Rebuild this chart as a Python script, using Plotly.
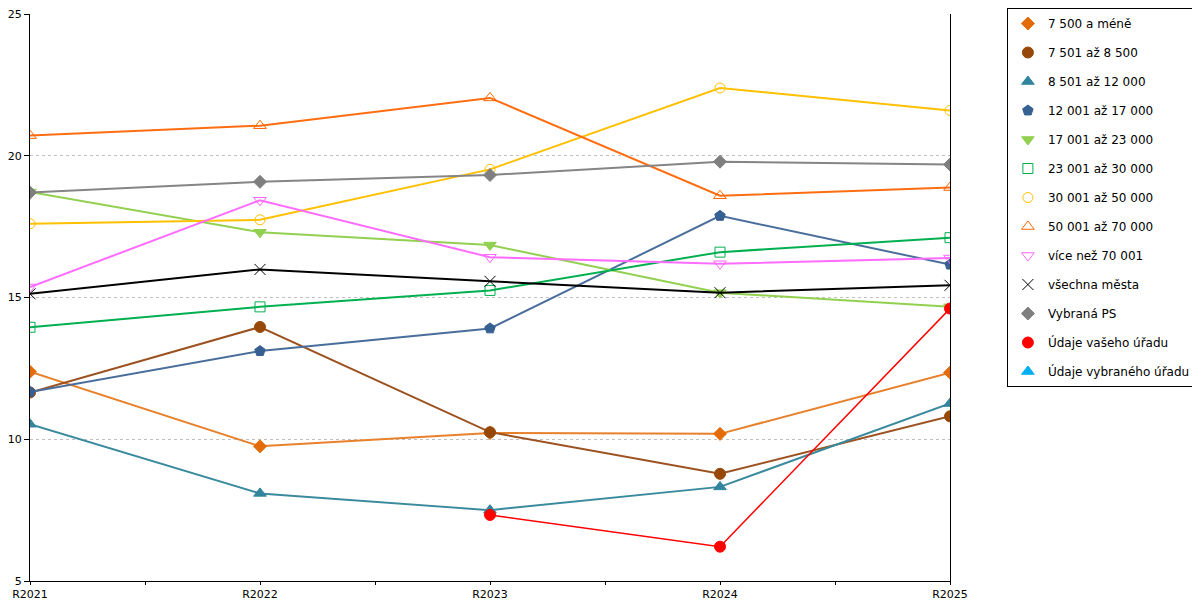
import plotly.graph_objects as go

years = ["R2021", "R2022", "R2023", "R2024", "R2025"]

s_7500 = [12.38, 9.75, 10.22, 10.19, 12.35]
s_8500 = [11.65, 13.96, 10.25, 8.78, 10.81]
s_12000 = [10.53, 8.09, 7.50, 8.32, 11.26]
s_17000 = [11.67, 13.11, 13.91, 17.88, 16.16]
s_23000 = [18.72, 17.30, 16.85, 15.17, 14.67]
s_30000 = [13.95, 14.67, 15.25, 16.60, 17.11]
s_50000 = [17.60, 17.74, 19.52, 22.39, 21.60]
s_70000 = [20.71, 21.06, 22.04, 18.59, 18.88]
s_over70 = [15.37, 18.43, 16.42, 16.19, 16.39]
s_all = [15.13, 15.99, 15.57, 15.17, 15.43]
s_ps = [18.70, 19.08, 19.32, 19.79, 19.69]
s_vas = [None, None, 7.33, 6.21, 14.61]
s_vybr = [None, None, None, None, None]

y_ticks = [5, 10, 15, 20, 25]

# name, values, line colour, marker colour, symbol, size
series = [
    ("7 500 a méně", s_7500, "#E8812C", "#E36C09", "diamond", 10),
    ("7 501 až 8 500", s_8500, "#9C5220", "#974806", "circle", 11),
    ("8 501 až 12 000", s_12000, "#3A8A9E", "#31859C", "triangle-up", 11),
    ("12 001 až 17 000", s_17000, "#4A6E9C", "#376092", "pentagon", 11),
    ("17 001 až 23 000", s_23000, "#92D050", "#92D050", "triangle-down", 11),
    ("23 001 až 30 000", s_30000, "#00B050", "#00B050", "square-open", 10),
    ("30 001 až 50 000", s_50000, "#FFC000", "#FFC000", "circle-open", 10),
    ("50 001 až 70 000", s_70000, "#FF6D10", "#FF6600", "triangle-up-open", 11),
    ("více než 70 001", s_over70, "#FF6CFF", "#FF66FF", "triangle-down-open", 11),
    ("všechna města", s_all, "#000000", "#000000", "x-thin-open", 11),
    ("Vybraná PS", s_ps, "#858585", "#7F7F7F", "diamond", 10),
    ("Údaje vašeho úřadu", s_vas, "#FF0000", "#FF0000", "circle", 11),
    ("Údaje vybraného úřadu", s_vybr, "#00B0F0", "#00B0F0", "triangle-up", 11),
]

xpos = list(range(len(years)))

fig = go.Figure()
for name, vals, lc, mc, sym, size in series:
    lw = 1.5 if name == "Údaje vašeho úřadu" else 2
    fig.add_trace(go.Scatter(
        x=xpos, y=vals, mode="lines+markers", name=name,
        legendgroup=name, showlegend=False, connectgaps=False,
        line=dict(color=lc, width=lw),
        marker=dict(symbol=sym, size=size, color=mc, line=dict(color=mc, width=1)),
    ))
    # legend shows the marker only
    fig.add_trace(go.Scatter(
        x=[None], y=[None], mode="markers", name=name,
        legendgroup=name, showlegend=True,
        marker=dict(symbol=sym, size=size, color=mc, line=dict(color=mc, width=1)),
    ))

tickvals = [i / 2 for i in range(2 * len(years) - 1)]
ticktext = [years[int(v)] if v == int(v) else "" for v in tickvals]

# page body has an 8px margin, so the figure is sized to the visible area
fig.update_layout(
    width=1192, height=592,
    margin=dict(l=22, r=250, t=6, b=19),
    paper_bgcolor="white", plot_bgcolor="white",
    font=dict(family="DejaVu Sans", size=11, color="#000000"),
    legend=dict(
        xref="container", yref="container", x=0.838, y=1.0,
        xanchor="left", yanchor="top", maxheight=1.0,
        bordercolor="#000000", borderwidth=1, bgcolor="white",
        font=dict(size=12), tracegroupgap=10,
    ),
    xaxis=dict(
        range=[0, 4], tickvals=tickvals, ticktext=ticktext,
        showgrid=False, zeroline=False, showline=True, linecolor="#000000",
        linewidth=1, ticks="outside", ticklen=3, tickcolor="#000000",
        automargin=False, ticklabeloverflow="allow",
    ),
    yaxis=dict(
        range=[5, 25], tickvals=y_ticks, showgrid=True, gridcolor="#C0C0C0",
        griddash="dot", gridwidth=1, zeroline=False, showline=True,
        linecolor="#000000", linewidth=1, mirror=True, ticks="outside",
        ticklen=5, tickcolor="#000000", automargin=False,
        ticklabeloverflow="allow",
    ),
)

fig.write_html("out.html")
